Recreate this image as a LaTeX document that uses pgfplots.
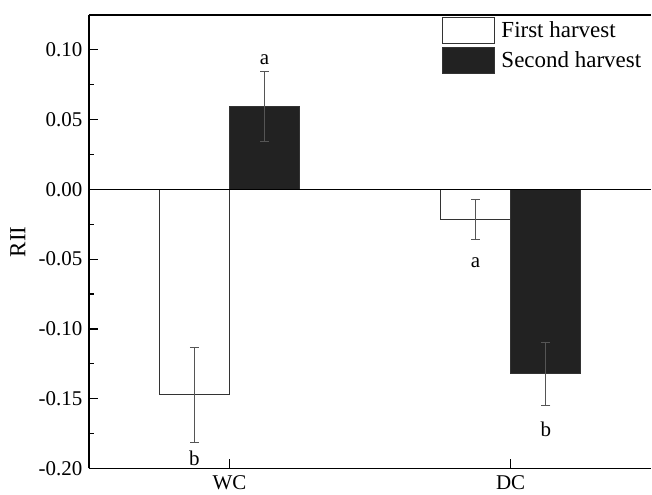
\documentclass[border=0pt]{standalone}
\usepackage{fontspec}
\setmainfont{Liberation Serif}
\usepackage{pgfplots}
\pgfplotsset{compat=1.18}
\definecolor{darkbar}{HTML}{222222}
\definecolor{edge}{HTML}{333333}
\definecolor{errgray}{HTML}{555555}

\begin{document}
\begin{tikzpicture}
\begin{axis}[
    scale only axis, width=563pt, height=454pt,
    xmin=-0.5, xmax=1.5, ymin=-0.2, ymax=0.125,
    axis x line*=box, axis y line*=left,
    axis line style={line width=1.6pt},
    ybar, clip=false,
    xtick={0,1}, xticklabels={WC,DC}, xtick pos=bottom,
    ytick={-0.2,-0.15,-0.1,-0.05,0,0.05,0.1},
    minor y tick num=1,
    major tick length=9pt, minor tick length=5pt,
    every tick/.style={black, line width=1.2pt},
    tick align=inside,
    yticklabel style={/pgf/number format/.cd, fixed, fixed zerofill, precision=2, assume math mode=true, /tikz/.cd, xshift=-3pt},
    xticklabel style={yshift=-4pt},
    ticklabel style={font=\fontsize{21}{23}\selectfont},
    legend style={at={(rel axis cs:0.627,0.996)}, anchor=north west, draw=none, fill=none,
        inner sep=0pt, row sep=3pt, font=\fontsize{23}{25}\selectfont,
        /tikz/every odd column/.append style={column sep=5pt}},
    legend cell align=left,
    legend image code/.code={\draw[#1] (0pt,-13pt) rectangle (52pt,13pt);},
    error bars/y dir=both, error bars/y explicit,
    error bars/error bar style={errgray, line width=0.8pt},
    error bars/error mark options={errgray, line width=0.8pt, mark size=4.5pt, rotate=90},
]
\addplot[bar width=0.25, bar shift=-0.125, fill=white, draw=edge, line width=0.9pt]
    coordinates {(0,-0.147) +- (0,0.034) (1,-0.0214) +- (0,0.0142)};
\addlegendentry{First harvest}
\addplot[bar width=0.25, bar shift=0.125, fill=darkbar, draw=edge, line width=0.9pt]
    coordinates {(0,0.0597) +- (0,0.025) (1,-0.132) +- (0,0.0225)};
\addlegendentry{Second harvest}

\draw[black, line width=1.2pt] (axis cs:-0.5,0) -- (axis cs:1.5,0);

\node[font=\fontsize{21}{23}\selectfont, inner sep=0pt] at (axis cs:-0.125,-0.193) {b};
\node[font=\fontsize{21}{23}\selectfont, inner sep=0pt] at (axis cs:0.125,0.093) {a};
\node[font=\fontsize{21}{23}\selectfont, inner sep=0pt] at (axis cs:0.875,-0.0523) {a};
\node[font=\fontsize{21}{23}\selectfont, inner sep=0pt] at (axis cs:1.125,-0.172) {b};

\coordinate (nw) at (rel axis cs:0,1);
\coordinate (se) at (rel axis cs:1,0);
\coordinate (lab) at (rel axis cs:0,0.5);
\end{axis}
\node[font=\fontsize{23}{25}\selectfont, rotate=90, inner sep=0pt] at ([xshift=-71pt]lab) {RII};
\path ([shift={(-89pt,15pt)}]nw) rectangle ([shift={(0pt,-26pt)}]se);
\end{tikzpicture}
\end{document}
